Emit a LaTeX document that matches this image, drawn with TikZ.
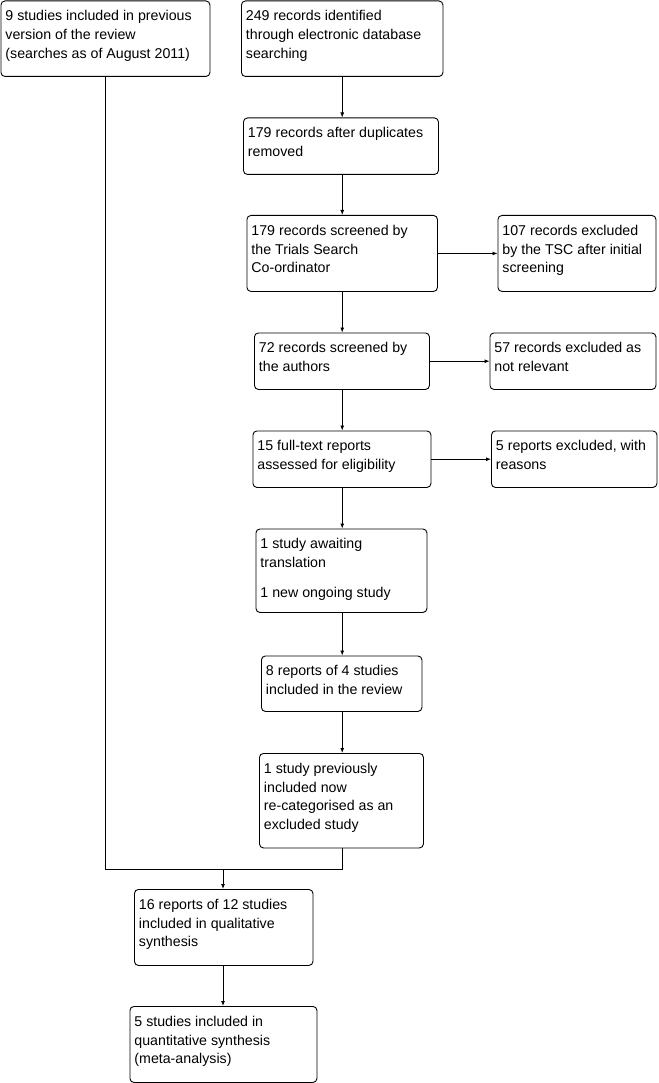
\documentclass[tikz,border=0pt]{standalone}
\usepackage{fontspec}
\setmainfont{Liberation Sans}
\usepackage{tikz}
\usetikzlibrary{arrows.meta, calc}
\newcommand{\boxfont}{\fontsize{14.2}{18.7}\selectfont}
\newcommand{\boxtext}[3]{\parbox[t][#2pt][t]{#1pt}{\raggedright\rule{0pt}{20pt}#3}}
\tikzset{
  box/.style={draw, line width=0.9pt, rounded corners=4pt, anchor=north west,
    inner xsep=4.5pt, inner ysep=0pt, font=\boxfont},
  link/.style={line width=0.9pt},
  flow/.style={line width=0.9pt, -{Latex[length=5pt,width=4pt]}}
}
\begin{document}
\begin{tikzpicture}[x=1pt, y=-1pt]
    \useasboundingbox (0,0) rectangle (658,1083);
    % identification
    \node[box] (prev) at (0.5,0.5) {\boxtext{200}{75.5}{9 studies included in previous\\version of the review\\(searches as of August 2011)}};
    \node[box] (rec) at (241,0.5) {\boxtext{192.5}{75.5}{249 records identified\\through electronic database\\searching}};
    \node[box] (dup) at (243,117.5) {\boxtext{186}{56.5}{179 records after duplicates\\removed}};
    % screening
    \node[box] (scr) at (246.5,215) {\boxtext{181.5}{76}{179 records screened by\\the Trials Search\\Co-ordinator}};
    \node[box] (tsc) at (497.5,215) {\boxtext{149}{76}{107 records excluded\\by the TSC after initial\\screening}};
    \node[box] (auth) at (254,332.5) {\boxtext{166}{56.5}{72 records screened by\\the authors}};
    \node[box] (nrel) at (489.5,332.5) {\boxtext{157}{56.5}{57 records excluded as\\not relevant}};
    % eligibility
    \node[box] (full) at (252.5,430.5) {\boxtext{169}{56.5}{15 full-text reports\\assessed for eligibility}};
    \node[box] (rsn) at (491,430.5) {\boxtext{156.5}{56.5}{5 reports excluded, with\\reasons}};
    \node[box] (wait) at (255.5,528.5) {\boxtext{162}{83.5}{1 study awaiting\\translation\\[11pt]1 new ongoing study}};
    % included
    \node[box] (rev) at (261,655.5) {\boxtext{151.5}{55.5}{8 reports of 4 studies\\included in the review}};
    \node[box] (excl) at (259,753) {\boxtext{155}{94.5}{1 study previously\\included now\\re-categorised as an\\excluded study}};
    \node[box] (qual) at (134,889) {\boxtext{169.5}{76}{16 reports of 12 studies\\included in qualitative\\synthesis}};
    \node[box] (meta) at (129.5,1006) {\boxtext{178}{76}{5 studies included in\\quantitative synthesis\\(meta-analysis)}};
    \coordinate (join) at (223,869.5);

    % connectors
    \draw[flow] (rec.south) -- (rec.south |- dup.north);
    \draw[flow] (rec.south |- dup.south) -- (rec.south |- scr.north);
    \draw[flow] (rec.south |- scr.south) -- (rec.south |- auth.north);
    \draw[flow] (rec.south |- auth.south) -- (rec.south |- full.north);
    \draw[flow] (rec.south |- full.south) -- (rec.south |- wait.north);
    \draw[flow] (rec.south |- wait.south) -- (rec.south |- rev.north);
    \draw[flow] (rec.south |- rev.south) -- (rec.south |- excl.north);
    \draw[flow] (scr.east) -- (scr.east -| tsc.west);
    \draw[flow] (auth.east) -- (auth.east -| nrel.west);
    \draw[flow] (full.east) -- (full.east -| rsn.west);
    \draw[link] (prev.south) |- (join);
    \draw[link] (rec.south |- excl.south) |- (join);
    \draw[flow] (join) -- (join |- qual.north);
    \draw[flow] (join |- qual.south) -- (join |- meta.north);
\end{tikzpicture}
\end{document}
